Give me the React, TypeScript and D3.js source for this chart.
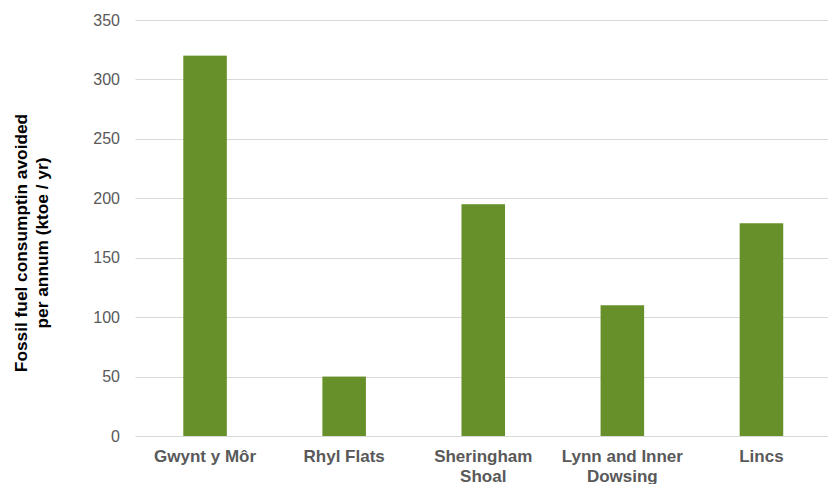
import React from "react";
import * as d3 from "d3";

const categories: string[][] = [
  ["Gwynt y Môr"],
  ["Rhyl Flats"],
  ["Sheringham", "Shoal"],
  ["Lynn and Inner", "Dowsing"],
  ["Lincs"],
];
const values: number[] = [320, 50, 195, 110, 179];
const yTicks: number[] = [0, 50, 100, 150, 200, 250, 300, 350];
const yTitle: string[] = ["Fossil fuel consumptin avoided", "per annum (ktoe / yr)"];

const W = 828;
const H = 484;
const FONT = "'Liberation Sans', Arial, Helvetica, sans-serif";

export default function App() {
  const keys = categories.map((c) => c.join(" "));
  const x = d3.scaleBand<string>().domain(keys).range([135.5, 831]).paddingInner(0.687).paddingOuter(0.3435);
  const y = d3.scaleLinear().domain([0, 350]).range([436, 20]);

  return (
    <svg
      width={W}
      height={H}
      style={{ position: "absolute", left: 0, top: 0, background: "#fff" }}
      fontFamily={FONT}
    >
      <rect x={0} y={0} width={W} height={H} fill="#fff" />
      {yTicks.map((t) => (
        <g key={t}>
          <line x1={135.5} x2={831} y1={Math.round(y(t)) + 0.5} y2={Math.round(y(t)) + 0.5} stroke="#d9d9d9" strokeWidth={1} />
          <text x={120} y={y(t)} dy="0.35em" textAnchor="end" fontSize={16} fill="#595959">
            {t}
          </text>
        </g>
      ))}
      {values.map((v, i) => (
        <rect
          key={keys[i]}
          x={x(keys[i])!}
          y={y(v)}
          width={x.bandwidth()}
          height={y(0) - y(v)}
          fill="#67902a"
        />
      ))}
      {categories.map((lines, i) => (
        <text
          key={keys[i]}
          x={x(keys[i])! + x.bandwidth() / 2}
          y={462}
          textAnchor="middle"
          fontSize={17}
          fontWeight="bold"
          fill="#595959"
        >
          {lines.map((l, j) => (
            <tspan key={j} x={x(keys[i])! + x.bandwidth() / 2} dy={j === 0 ? 0 : 20}>
              {l}
            </tspan>
          ))}
        </text>
      ))}
      {yTitle.map((l, j) => (
        <text
          key={j}
          transform={`translate(${27 + j * 20.5},243) rotate(-90)`}
          textAnchor="middle"
          fontSize={17.3}
          fontWeight="bold"
          fill="#000"
        >
          {l}
        </text>
      ))}
    </svg>
  );
}
